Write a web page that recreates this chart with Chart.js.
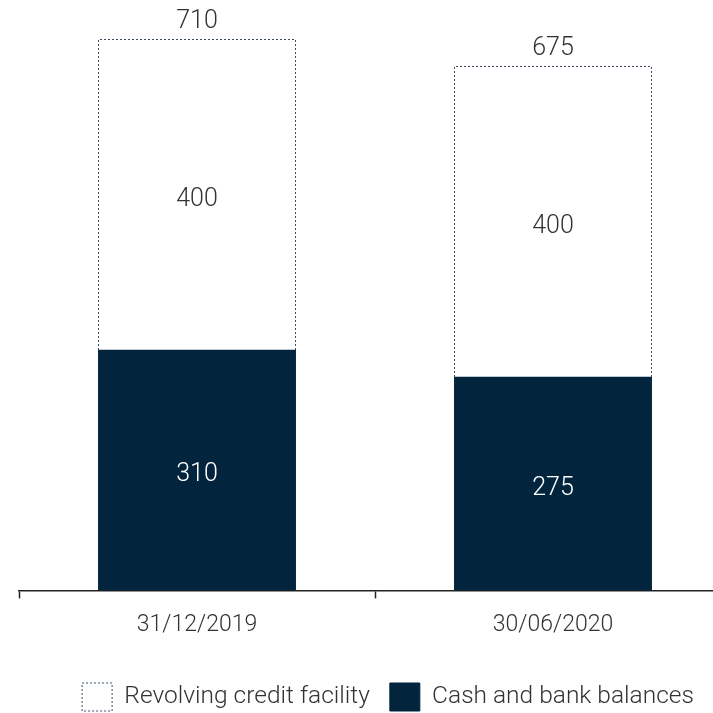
<!DOCTYPE html>
<html>
<head>
<meta charset="utf-8">
<script src="https://cdn.jsdelivr.net/npm/chart.js@4"></script>
<style>
  html, body { margin: 0; padding: 0; background: #fff; overflow: hidden; }
  #wrap { width: 740px; height: 713px; position: relative; }
</style>
</head>
<body>
<div id="wrap"><canvas id="liquidityChart"></canvas></div>
<script>
// period labels along the bottom
let periods = ['31/12/2019', '30/06/2020'];

// stacked values (EUR m)
let cashBalances = [310, 275];
let creditFacility = [400, 400];

let navy = '#02243d';
let textGrey = '#333333';
let fontFamily = 'Roboto, "Open Sans", sans-serif';

// dotted outline for the undrawn facility + value labels
let barLabels = {
    id: 'barLabels',
    afterLayout(chart) {
        // nudge the legend a little to the right
        if (chart.legend) {
            chart.legend.left += 13;
            chart.legend.right += 13;
        }
    },
    afterDatasetsDraw(chart) {
        let ctx = chart.ctx;
        let cashMeta = chart.getDatasetMeta(0);
        let rcfMeta = chart.getDatasetMeta(1);

        ctx.save();
        ctx.strokeStyle = '#3a4c60';
        ctx.lineWidth = 1;
        ctx.setLineDash([2, 2]);
        rcfMeta.data.forEach(function(bar) {
            let p = bar.getProps(['x', 'y', 'base', 'width'], true);
            let left = Math.round(p.x - p.width / 2) + 0.5;
            let right = Math.round(p.x + p.width / 2) - 0.5;
            let top = Math.round(p.y) + 0.5;
            let bottom = Math.round(p.base);
            ctx.beginPath();
            ctx.moveTo(left, bottom);
            ctx.lineTo(left, top);
            ctx.lineTo(right, top);
            ctx.lineTo(right, bottom);
            ctx.stroke();
        });
        ctx.restore();

        ctx.save();
        ctx.font = '300 25px ' + fontFamily;
        ctx.textAlign = 'center';
        ctx.textBaseline = 'middle';
        cashMeta.data.forEach(function(bar, i) {
            let p = bar.getProps(['x', 'y', 'base'], true);
            ctx.fillStyle = '#ffffff';
            ctx.fillText(cashBalances[i], p.x, (p.y + p.base) / 2 + 5);
        });
        rcfMeta.data.forEach(function(bar, i) {
            let p = bar.getProps(['x', 'y', 'base'], true);
            ctx.fillStyle = textGrey;
            ctx.fillText(creditFacility[i], p.x, (p.y + p.base) / 2 + 5);
            // total on top
            ctx.fillText(cashBalances[i] + creditFacility[i], p.x, p.y - 17);
        });
        ctx.restore();
    }
};

let chart = new Chart(document.getElementById('liquidityChart'), {
    type: 'bar',
    data: {
        labels: periods,
        datasets: [{
            label: 'Cash and bank balances',
            data: cashBalances,
            backgroundColor: navy,
            borderWidth: 0
        }, {
            label: 'Revolving credit facility',
            data: creditFacility,
            backgroundColor: '#ffffff',
            borderWidth: 0
        }]
    },
    options: {
        responsive: true,
        maintainAspectRatio: false,
        animation: false,
        datasets: {
            bar: { categoryPercentage: 1, barPercentage: 0.556 }
        },
        layout: {
            padding: { left: 19, right: 9, top: 8, bottom: -8 }
        },
        scales: {
            x: {
                stacked: true,
                offset: true,
                border: { display: true, color: '#222', width: 1.5 },
                grid: {
                    display: true,
                    offset: true,
                    drawOnChartArea: false,
                    drawTicks: true,
                    tickLength: 8,
                    tickWidth: 1.5,
                    tickColor: '#222'
                },
                ticks: {
                    color: textGrey,
                    padding: 13,
                    font: { family: fontFamily, size: 23, weight: 300 }
                },
                afterFit: function(scale) {
                    scale.height += 11;
                }
            },
            y: {
                stacked: true,
                display: false,
                min: 0,
                max: 750
            }
        },
        plugins: {
            tooltip: { enabled: false },
            legend: {
                position: 'bottom',
                reverse: true,
                labels: {
                    color: textGrey,
                    boxWidth: 30,
                    boxHeight: 28,
                    padding: 20,
                    font: { family: fontFamily, size: 24.5, weight: 300 },
                    generateLabels: function(c) {
                        return c.data.datasets.map(function(ds, i) {
                            let dotted = i === 1;
                            return {
                                text: ds.label,
                                fillStyle: dotted ? '#ffffff' : navy,
                                strokeStyle: dotted ? '#3a4c60' : navy,
                                lineWidth: 1,
                                lineDash: dotted ? [2, 2] : [],
                                fontColor: textGrey,
                                hidden: false,
                                datasetIndex: i
                            };
                        });
                    }
                }
            }
        }
    },
    plugins: [barLabels]
});
</script>
</body>
</html>
